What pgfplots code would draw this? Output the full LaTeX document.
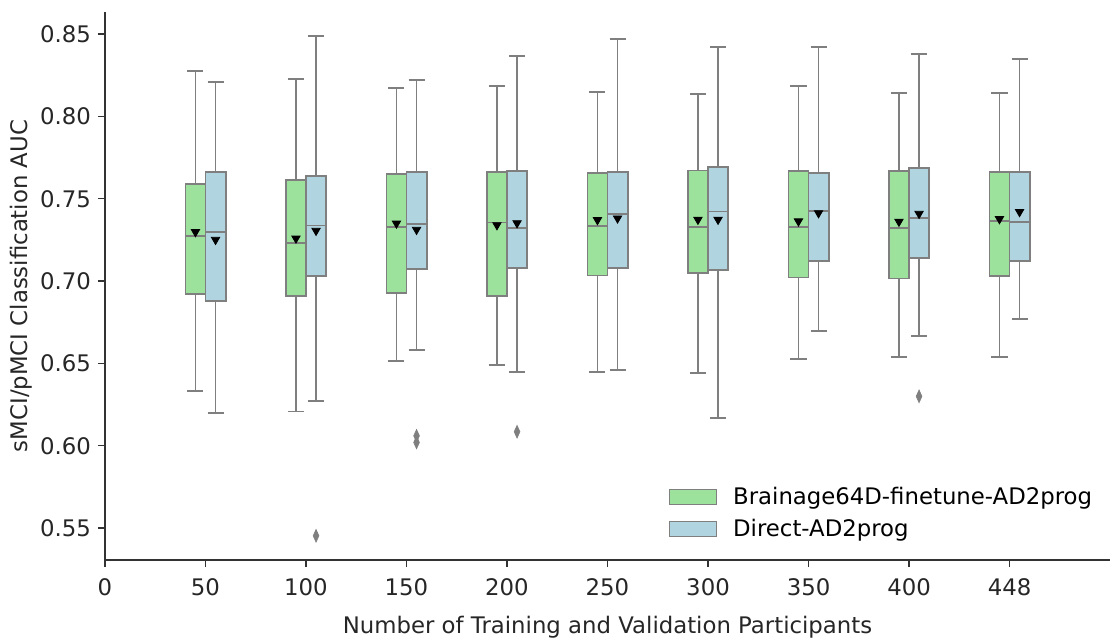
\documentclass[border=0pt]{standalone}
\usepackage{fontspec}
\setmainfont{DejaVu Sans}
\usepackage{pgfplots}
\pgfplotsset{compat=1.18}
\usepgfplotslibrary{statistics}

\definecolor{cg}{HTML}{9CE29C}
\definecolor{cb}{HTML}{B0D4E0}
\definecolor{edge}{HTML}{7F7F7F}
\definecolor{axc}{HTML}{333333}

\pgfplotsset{
  bx/.style={draw=edge, line width=0.9pt, solid, forget plot,
    mark=diamond*, mark size=3.2pt,
    mark options={fill=edge, draw=edge, xscale=0.6, line width=0.3pt},
    boxplot/draw direction=y,
    boxplot/box extend=0.2,
    boxplot/every whisker/.style={draw=edge, line width=0.9pt},
    boxplot/every median/.style={draw=edge, line width=0.9pt}},
  bg/.style={bx, fill=cg},
  bb/.style={bx, fill=cb},
}

\begin{document}
\begin{tikzpicture}
\begin{axis}[
  scale only axis,
  width=502.5pt, height=274pt,
  xmin=0, xmax=10,
  ymin=0.5306, ymax=0.8634,
  axis x line*=bottom, axis y line*=left,
  axis line style={axc, line width=0.7pt, -},
  tick style={axc, line width=0.7pt},
  tick align=outside, major tick length=3.5pt,
  xtick={0,1,2,3,4,5,6,7,8,9},
  xticklabels={0,50,100,150,200,250,300,350,400,448},
  ytick={0.55,0.60,0.65,0.70,0.75,0.80,0.85},
  yticklabel style={/pgf/number format/.cd, fixed, fixed zerofill, precision=2},
  xticklabel style={yshift=-2.5pt},
  /pgf/number format/assume math mode=true,
  tick label style={font=\fontsize{11.4}{13}\selectfont, text=black!85},
  label style={font=\fontsize{11.4}{13}\selectfont, text=black!85},
  xlabel={Number of Training and Validation Participants},
  xlabel style={yshift=-3pt},
  ylabel={sMCI/pMCI Classification AUC},
  ylabel style={yshift=-3pt},
  legend style={draw=none, fill=none, at={(rel axis cs:0.555,0.149)}, anchor=north west,
    font=\fontsize{11.4}{13}\selectfont, row sep=2pt,
    /tikz/every odd column/.append style={column sep=6pt}},
  legend cell align=left,
]
% 50
\addplot[bg, boxplot prepared={draw position=0.9, lower whisker=0.6334, lower quartile=0.6921, median=0.7273, upper quartile=0.7589, upper whisker=0.8274}] coordinates {};
\addplot[bb, boxplot prepared={draw position=1.1, lower whisker=0.6198, lower quartile=0.6877, median=0.7298, upper quartile=0.7664, upper whisker=0.8209}] coordinates {};
% 100
\addplot[bg, boxplot prepared={draw position=1.9, lower whisker=0.6208, lower quartile=0.6909, median=0.7231, upper quartile=0.7616, upper whisker=0.8227}] coordinates {};
\addplot[bb, boxplot prepared={draw position=2.1, lower whisker=0.6271, lower quartile=0.7032, median=0.7338, upper quartile=0.7638, upper whisker=0.8490}] coordinates {(0,0.5453)};
% 150
\addplot[bg, boxplot prepared={draw position=2.9, lower whisker=0.6516, lower quartile=0.6927, median=0.7326, upper quartile=0.7648, upper whisker=0.8171}] coordinates {};
\addplot[bb, boxplot prepared={draw position=3.1, lower whisker=0.6583, lower quartile=0.7073, median=0.7346, upper quartile=0.7660, upper whisker=0.8223}] coordinates {(0,0.6060) (0,0.6020)};
% 200
\addplot[bg, boxplot prepared={draw position=3.9, lower whisker=0.6490, lower quartile=0.6911, median=0.7356, upper quartile=0.7660, upper whisker=0.8183}] coordinates {};
\addplot[bb, boxplot prepared={draw position=4.1, lower whisker=0.6450, lower quartile=0.7077, median=0.7322, upper quartile=0.7670, upper whisker=0.8365}] coordinates {(0,0.6085)};
% 250
\addplot[bg, boxplot prepared={draw position=4.9, lower whisker=0.6450, lower quartile=0.7034, median=0.7336, upper quartile=0.7658, upper whisker=0.8146}] coordinates {};
\addplot[bb, boxplot prepared={draw position=5.1, lower whisker=0.6460, lower quartile=0.7081, median=0.7407, upper quartile=0.7664, upper whisker=0.8470}] coordinates {};
% 300
\addplot[bg, boxplot prepared={draw position=5.9, lower whisker=0.6440, lower quartile=0.7047, median=0.7330, upper quartile=0.7672, upper whisker=0.8138}] coordinates {};
\addplot[bb, boxplot prepared={draw position=6.1, lower whisker=0.6170, lower quartile=0.7069, median=0.7423, upper quartile=0.7693, upper whisker=0.8420}] coordinates {};
% 350
\addplot[bg, boxplot prepared={draw position=6.9, lower whisker=0.6525, lower quartile=0.7022, median=0.7326, upper quartile=0.7670, upper whisker=0.8183}] coordinates {};
\addplot[bb, boxplot prepared={draw position=7.1, lower whisker=0.6696, lower quartile=0.7123, median=0.7425, upper quartile=0.7658, upper whisker=0.8420}] coordinates {};
% 400
\addplot[bg, boxplot prepared={draw position=7.9, lower whisker=0.6538, lower quartile=0.7016, median=0.7322, upper quartile=0.7666, upper whisker=0.8144}] coordinates {};
\addplot[bb, boxplot prepared={draw position=8.1, lower whisker=0.6668, lower quartile=0.7138, median=0.7381, upper quartile=0.7687, upper whisker=0.8379}] coordinates {(0,0.6300)};
% 448
\addplot[bg, boxplot prepared={draw position=8.9, lower whisker=0.6540, lower quartile=0.7032, median=0.7366, upper quartile=0.7660, upper whisker=0.8144}] coordinates {};
\addplot[bb, boxplot prepared={draw position=9.1, lower whisker=0.6769, lower quartile=0.7120, median=0.7360, upper quartile=0.7660, upper whisker=0.8350}] coordinates {};

% whisker caps
\addplot[only marks, forget plot, mark=-, mark size=2.9pt,
  mark options={draw=edge, line width=0.9pt}] coordinates {
  (0.9,0.6334) (0.9,0.8274) (1.1,0.6198) (1.1,0.8209)
  (1.9,0.6208) (1.9,0.8227) (2.1,0.6271) (2.1,0.8490)
  (2.9,0.6516) (2.9,0.8171) (3.1,0.6583) (3.1,0.8223)
  (3.9,0.6490) (3.9,0.8183) (4.1,0.6450) (4.1,0.8365)
  (4.9,0.6450) (4.9,0.8146) (5.1,0.6460) (5.1,0.8470)
  (5.9,0.6440) (5.9,0.8138) (6.1,0.6170) (6.1,0.8420)
  (6.9,0.6525) (6.9,0.8183) (7.1,0.6696) (7.1,0.8420)
  (7.9,0.6538) (7.9,0.8144) (8.1,0.6668) (8.1,0.8379)
  (8.9,0.6540) (8.9,0.8144) (9.1,0.6769) (9.1,0.8350)};

% means
\addplot[only marks, forget plot, mark=triangle*, mark size=2.4pt,
  mark options={rotate=180, fill=black, draw=black}] coordinates {
  (0.9,0.7298) (1.9,0.7259) (2.9,0.7350) (3.9,0.7340) (4.9,0.7371)
  (5.9,0.7373) (6.9,0.7363) (7.9,0.7361) (8.9,0.7377)
  (1.1,0.7251) (2.1,0.7306) (3.1,0.7312) (4.1,0.7352) (5.1,0.7381)
  (6.1,0.7373) (7.1,0.7413) (8.1,0.7409) (9.1,0.7420)};

\addlegendimage{legend image code/.code={\draw[fill=cg,draw=edge,line width=0.5pt] (0pt,-3.75pt) rectangle (23.5pt,3.75pt);}}
\addlegendentry{Brainage64D-finetune-AD2prog}
\addlegendimage{legend image code/.code={\draw[fill=cb,draw=edge,line width=0.5pt] (0pt,-3.75pt) rectangle (23.5pt,3.75pt);}}
\addlegendentry{Direct-AD2prog}
\end{axis}
\pgfresetboundingbox
\path (-52.5pt,-39pt) rectangle (503.5pt,280pt);
\end{tikzpicture}
\end{document}
